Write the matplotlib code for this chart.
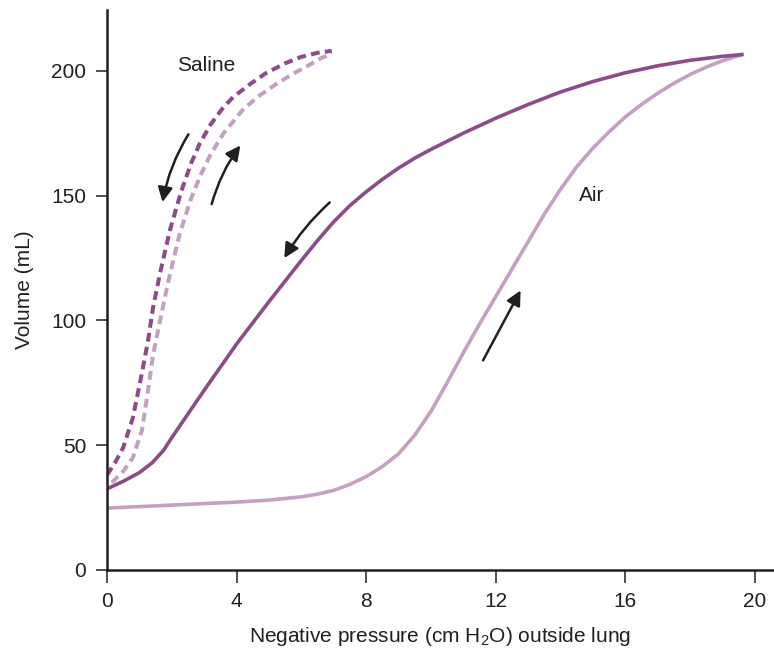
import matplotlib
matplotlib.use('Agg')
import matplotlib.pyplot as plt

# air inflation (light solid)
air_in_x = [0, 1, 2, 3, 4, 5, 6, 6.5, 7, 7.5, 8, 8.5, 9, 9.5, 10, 10.5, 11,
            11.5, 12, 12.5, 13, 13.5, 14, 14.5, 15, 15.5, 16, 16.5, 17, 17.5,
            18, 18.5, 19, 19.6]
air_in_y = [24.8, 25.4, 26, 26.6, 27.2, 28, 29.3, 30.4, 31.9, 34.3, 37.4,
            41.4, 46.5, 54, 63.5, 75, 87, 98.5, 109.5, 120.5, 131.5, 142.5,
            152.5, 161.5, 169, 175.5, 181.5, 186.5, 191, 195, 198.5, 201.5,
            204, 206.5]

# air deflation (dark solid)
air_out_x = [0, 0.5, 1, 1.4, 1.75, 2, 2.5, 3, 4, 5, 6, 6.5, 7, 7.5, 8, 8.5, 9,
             9.5, 10, 11, 12, 13, 14, 15, 16, 17, 18, 19, 19.6]
air_out_y = [32.5, 35.5, 39, 43, 48, 53, 62.5, 72, 90.5, 107.5, 124, 132,
             139.5, 146, 151.5, 156.5, 161, 165, 168.5, 175, 181, 186.5, 191.5,
             195.7, 199.2, 202, 204.2, 205.8, 206.5]

# saline deflation (dark dashed)
sal_out_x = [0, 0.25, 0.5, 0.8, 1.08, 1.27, 1.42, 1.64, 1.94, 2.3, 2.6, 2.87,
             3.2, 3.6, 3.9, 4.4, 4.9, 5.5, 6.0, 6.5, 6.94]
sal_out_y = [38, 43, 49, 61, 79, 92, 105, 119, 136, 152, 163, 171, 178.5,
             185.5, 189.5, 194.5, 199, 203, 205.6, 207.2, 208]

# saline inflation (light dashed)
sal_in_x = [0.15, 0.5, 0.8, 1.08, 1.27, 1.42, 1.64, 1.9, 2.25, 2.6, 2.9, 3.2,
            3.6, 4.2, 4.7, 5.2, 5.7, 6.2, 6.6, 6.94]
sal_in_y = [35, 39.5, 45, 56, 72, 86, 100, 116, 135, 149, 158.5, 166.5, 175,
            184.5, 190, 194.5, 198.5, 202, 205, 207]

xticks = [0, 4, 8, 12, 16, 20]
yticks = [0, 50, 100, 150, 200]

dark = '#8b4c89'
light = '#c4a0c1'
ink = '#231f20'
plt.rcParams['font.family'] = ['Liberation Sans', 'DejaVu Sans']
plt.rcParams['mathtext.fontset'] = 'custom'
plt.rcParams['mathtext.rm'] = 'Liberation Sans'
plt.rcParams['xtick.labelsize'] = 15
plt.rcParams['ytick.labelsize'] = 15
plt.rcParams['xtick.major.size'] = 9
plt.rcParams['ytick.major.size'] = 8
plt.rcParams['xtick.major.pad'] = 7
plt.rcParams['ytick.major.pad'] = 7

fig = plt.figure(figsize=(7.74, 6.52), dpi=100)
ax = fig.add_axes([0.1382, 0.1258, 0.860, 0.859])

ax.plot(air_in_x, air_in_y, color=light, lw=2.6, solid_joinstyle='round')
ax.plot(air_out_x, air_out_y, color=dark, lw=2.6, solid_joinstyle='round')
ax.plot(sal_in_x, sal_in_y, color=light, lw=2.9, dashes=(2.2, 1.3))
ax.plot(sal_out_x, sal_out_y, color=dark, lw=2.9, dashes=(2.2, 1.3))

arrow = dict(arrowstyle='-|>', color=ink, lw=1.8, mutation_scale=22)
ax.annotate('', xy=(1.70, 146.3), xytext=(2.56, 175.5),
            arrowprops=dict(arrow, connectionstyle='arc3,rad=0.1'))
ax.annotate('', xy=(4.17, 171), xytext=(3.21, 145.5),
            arrowprops=dict(arrow, connectionstyle='arc3,rad=-0.1'))
ax.annotate('', xy=(5.43, 124), xytext=(6.94, 148),
            arrowprops=dict(arrow, connectionstyle='arc3,rad=0.08'))
ax.annotate('', xy=(12.81, 113), xytext=(11.57, 83), arrowprops=arrow)

ax.text(3.05, 202, 'Saline', fontsize=15, ha='center', va='center', color=ink)
ax.text(14.95, 150, 'Air', fontsize=15, ha='center', va='center', color=ink)

ax.set_xlim(0, 20.55)
ax.set_ylim(0, 224.4)
ax.set_xticks(xticks)
ax.set_yticks(yticks)
for s in ['top', 'right']:
    ax.spines[s].set_visible(False)
for s in ['left', 'bottom']:
    ax.spines[s].set_linewidth(1.8)
    ax.spines[s].set_color(ink)
ax.tick_params(direction='out', width=1.1, colors=ink)

ax.set_xlabel('Negative pressure (cm H$_\\mathrm{2}$O) outside lung', fontsize=15,
              color=ink, labelpad=10)
ax.set_ylabel('Volume (mL)', fontsize=15, color=ink, labelpad=12)

fig.savefig('out.png', dpi=100)
